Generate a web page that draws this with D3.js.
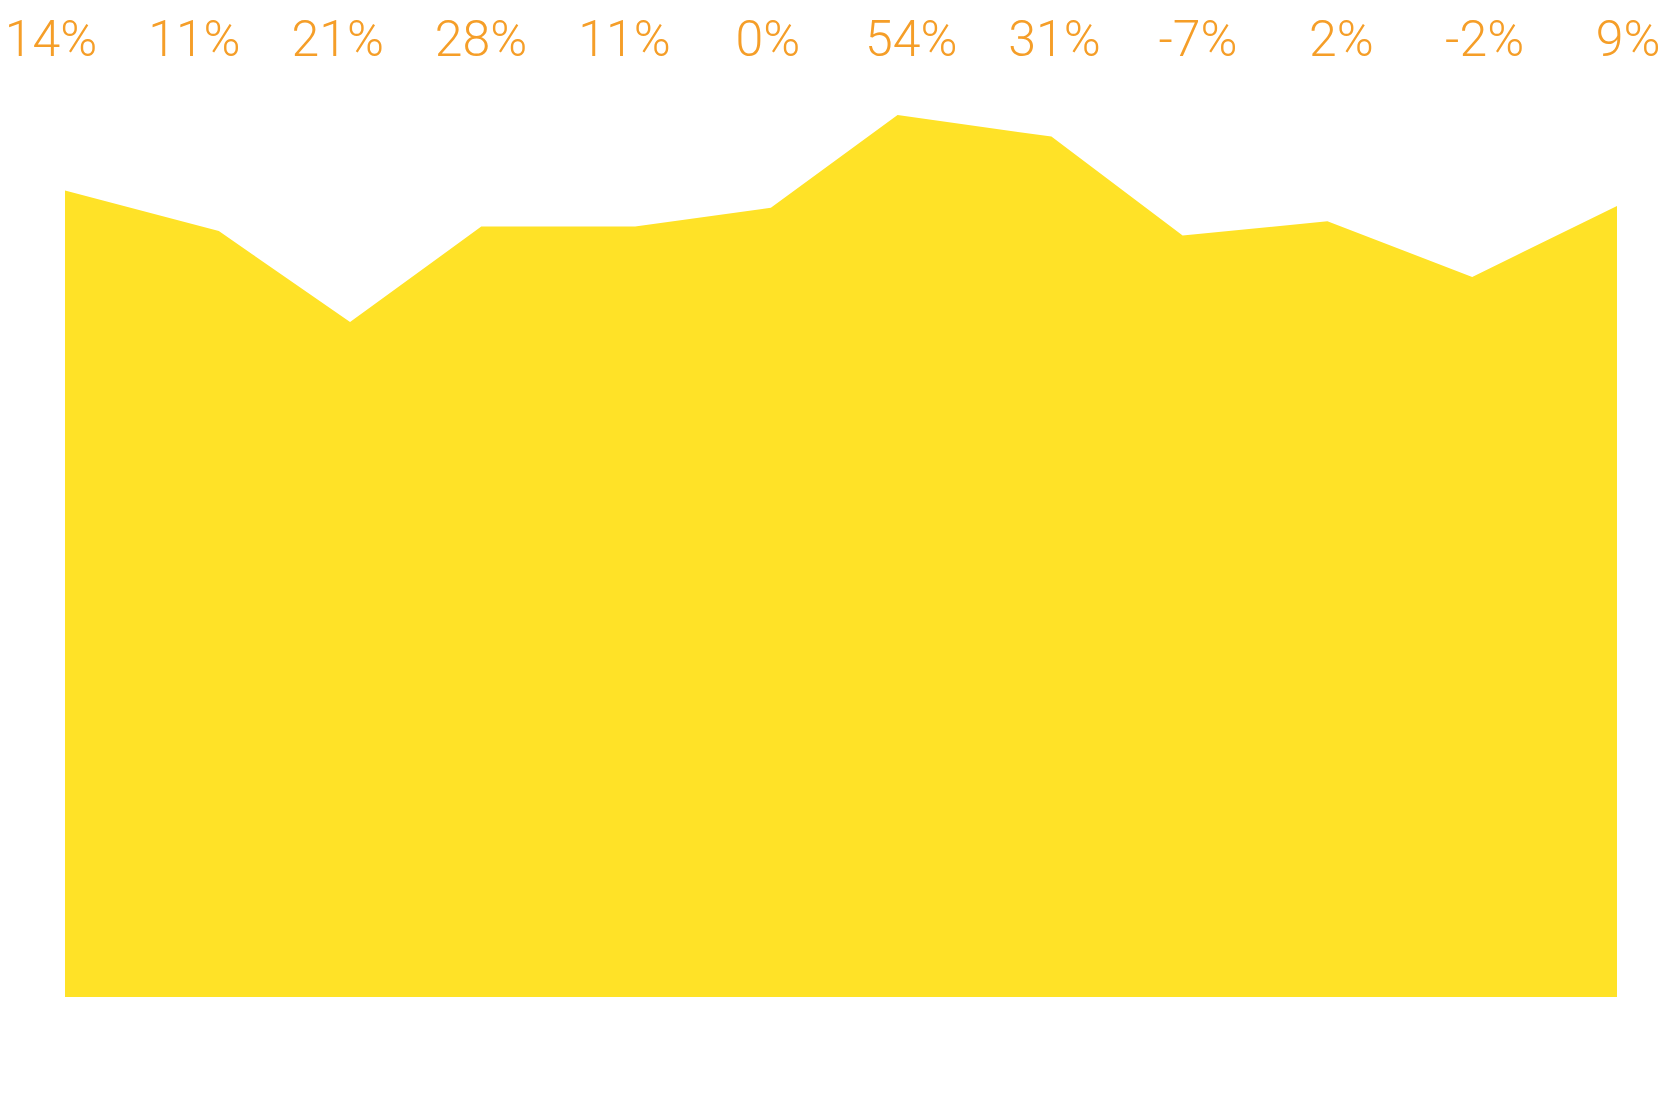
<!DOCTYPE html>
<html>
<head>
<meta charset="utf-8">
<script src="https://cdn.jsdelivr.net/npm/d3@7"></script>
<style>
    body { margin: 0; background: #ffffff; }
    .pct { font-family: Roboto, "Noto Sans", sans-serif; font-weight: 300; fill: #F59E28; }
</style>
</head>
<body>
<div id="chart"></div>
<script>
// chart data
let dates = ["2019-01-01", "2019-02-04", "2019-03-05", "2019-04-03", "2019-05-07", "2019-06-06",
    "2019-07-04", "2019-08-07", "2019-09-05", "2019-10-07", "2019-11-08", "2019-12-10"];
let values = [89.6, 85.1, 75.0, 85.6, 85.6, 87.7, 98.0, 95.6, 84.6, 86.2, 80.0, 87.9];
let changeLabels = ["14%", "11%", "21%", "28%", "11%", "0%", "54%", "31%", "-7%", "2%", "-2%", "9%"];

//setting up svg wrapper
let svgwidth = 1680;
let svgheight = 1095;

let margin = {
    top: 97,
    right: 63,
    bottom: 98,
    left: 65
};

let width = svgwidth - margin.left - margin.right;
let height = svgheight - margin.top - margin.bottom;

let svg = d3
    .select("#chart")
    .append("svg")
    .attr("width", svgwidth)
    .attr("height", svgheight);

let chartgroup = svg.append("g")
    .attr("transform", `translate(${margin.left}, ${margin.top})`);

let parseDate = d3.timeParse("%Y-%m-%d");

let data = dates.map((d, i) => ({ date: parseDate(d), value: values[i] }));

let xScale = d3.scaleTime()
    .domain(d3.extent(data, d => d.date))
    .range([0, width]);

let yScale = d3.scaleLinear()
    .domain([0, 100])
    .range([height, 0]);

let area = d3.area()
    .x(d => xScale(d.date))
    .y0(height)
    .y1(d => yScale(d.value));

chartgroup.append("path")
    .datum(data)
    .attr("d", area)
    .attr("fill", "#FFE227");

// percentage labels across the top
let labelScale = d3.scalePoint()
    .domain(changeLabels.map((d, i) => i))
    .range([51, 1628]);

svg.append("g")
    .selectAll("text")
    .data(changeLabels)
    .enter()
    .append("text")
    .classed("pct", true)
    .attr("x", (d, i) => labelScale(i))
    .attr("y", 56)
    .attr("text-anchor", "middle")
    .attr("font-size", 50)
    .text(d => d);
</script>
</body>
</html>
